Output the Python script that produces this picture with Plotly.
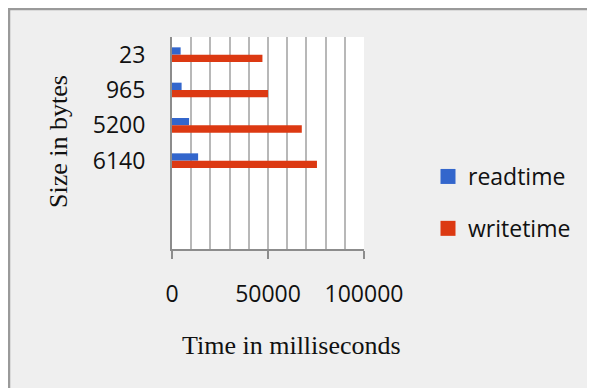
import plotly.graph_objects as go

sizes = ["23", "965", "5200", "6140"]
readtime = [4500, 5000, 8900, 13600]
writetime = [47100, 50000, 67600, 75500]
series_names = ["readtime", "writetime"]
series_colors = ["#3366CC", "#DC3912"]
x_ticks = [0, 50000, 100000]
x_tick_labels = ["0", "50000", "100000"]

# The page body has an 8px default margin, so the figure starts at (8, 8).
OFF = 8
W, H = 595 - OFF, 388 - OFF
L, R, T, B = 172 - OFF, 364 - OFF, 37 - OFF, 249 - OFF
pw, ph = R - L, B - T

def px(x):
    return (x - OFF - L) / pw

def py(y):
    return (B - (y - OFF)) / ph

SANS = "Open Sans, Lato, Liberation Sans, sans-serif"
SERIF = "Liberation Serif, Times New Roman, serif"
FS = 23

fig = go.Figure()
for name, vals, col in zip(series_names, [readtime, writetime], series_colors):
    fig.add_trace(go.Bar(y=sizes, x=vals, name=name, orientation="h",
                         marker=dict(color=col, line=dict(width=0)),
                         showlegend=False))
# legend entries with larger square swatches
for i, (name, col) in enumerate(zip(series_names, series_colors)):
    fig.add_trace(go.Scatter(x=[None], y=[None], mode="markers", name=name,
                             marker=dict(symbol="square", size=15, color=col),
                             legendgroup=f"g{i}", showlegend=True))

fig.update_layout(
    template="none",
    width=W, height=H,
    margin=dict(l=L, r=W - R, t=T, b=H - B, pad=0, autoexpand=False),
    paper_bgcolor="#EFEFEF",
    plot_bgcolor="#FFFFFF",
    barmode="group",
    bargap=0.585,
    bargroupgap=0,
    font=dict(family=SANS, size=FS, color="#111111"),
    legend=dict(
        x=px(428), y=py(155), xanchor="left", yanchor="top",
        bgcolor="rgba(0,0,0,0)", traceorder="grouped", tracegroupgap=19,
        font=dict(family=SANS, size=FS, color="#111111"),
    ),
    xaxis=dict(
        range=[0, 100000], tickvals=x_ticks, ticktext=x_tick_labels,
        showgrid=True, gridcolor="#B8B8B8", gridwidth=1.5,
        minor=dict(dtick=10000, showgrid=True, gridcolor="#B8B8B8", gridwidth=1.5, ticks=""),
        showline=True, linecolor="#8C8C8C", linewidth=2,
        ticks="outside", ticklen=8, tickcolor="#8C8C8C", tickwidth=2,
        ticklabelstandoff=15, zeroline=False,
        tickfont=dict(family=SANS, size=FS, color="#111111"),
    ),
    yaxis=dict(
        type="category", categoryarray=sizes, range=[5.5, -0.5],
        showgrid=False, showline=True, linecolor="#8C8C8C", linewidth=2,
        ticks="", ticklabelstandoff=20, zeroline=False,
        tickfont=dict(family=SANS, size=FS, color="#111111"),
    ),
    annotations=[
        dict(text="Time in milliseconds", x=px(291.5), y=py(345), xref="paper", yref="paper",
             xanchor="center", yanchor="middle", showarrow=False,
             font=dict(family=SERIF, size=26, color="#111111")),
        dict(text="Size in bytes", x=px(58), y=py(142), xref="paper", yref="paper",
             xanchor="center", yanchor="middle", showarrow=False, textangle=-90,
             font=dict(family=SERIF, size=26, color="#111111")),
    ],
    shapes=[
        dict(type="path", xref="paper", yref="paper",
             path=f"M {px(9)},{py(400)} L {px(9)},{py(9)} L {px(610)},{py(9)}",
             line=dict(color="#9A9A9A", width=2.5)),
    ],
)

fig.write_html("out.html")
